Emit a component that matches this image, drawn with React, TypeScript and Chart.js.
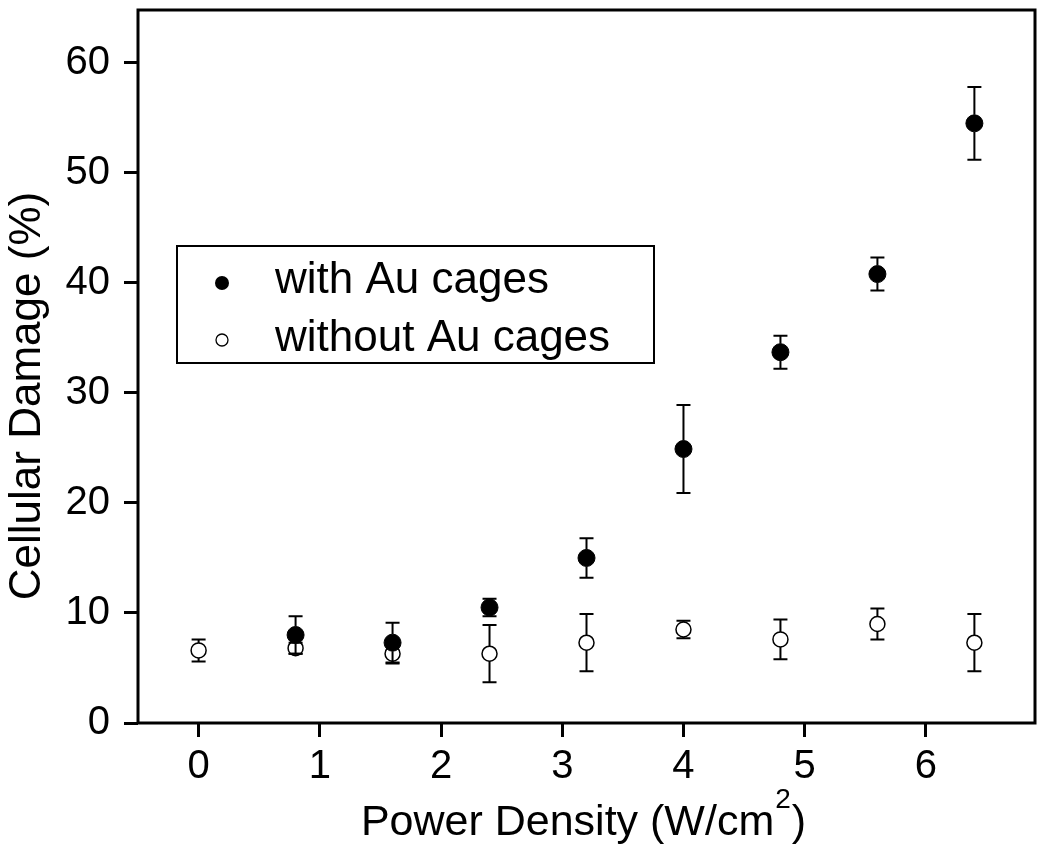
import React, { useEffect, useRef } from "react";
import { Chart, registerables } from "chart.js";

Chart.register(...registerables);

// ---- data ----
const powerDensity = [0, 0.8, 1.6, 2.4, 3.2, 4.0, 4.8, 5.6, 6.4];
const withCagesX = [0.8, 1.6, 2.4, 3.2, 4.0, 4.8, 5.6, 6.4];
const withCagesY = [8.0, 7.3, 10.5, 15.0, 24.9, 33.7, 40.8, 54.5];
const withCagesErr = [1.7, 1.8, 0.8, 1.8, 4.0, 1.5, 1.5, 3.3];
const withoutCagesY = [6.6, 6.8, 6.3, 6.3, 7.3, 8.5, 7.6, 9.0, 7.3];
const withoutCagesErr = [1.0, 0.5, 0.9, 2.6, 2.6, 0.8, 1.8, 1.4, 2.6];
const xTicks = [0, 1, 2, 3, 4, 5, 6];
const yTicks = [0, 10, 20, 30, 40, 50, 60];
const legendLabels = ["with Au cages", "without Au cages"];
const xTitleMain = "Power Density (W/cm";
const xTitleSup = "2";
const xTitleEnd = ")";
const yTitle = "Cellular Damage (%)";

const FONT = "'Liberation Sans', Arial, Helvetica, sans-serif";

const errorBarPlugin = {
  id: "errorBars",
  afterDatasetsDraw(chart: any) {
    const ctx = chart.ctx;
    const yScale = chart.scales.y;
    ctx.save();
    ctx.strokeStyle = "#000";
    ctx.lineWidth = 2;
    chart.data.datasets.forEach((ds: any, di: number) => {
      const meta = chart.getDatasetMeta(di);
      const r = ds.pointRadius;
      meta.data.forEach((pt: any, i: number) => {
        const v = ds.data[i].y;
        const e = ds.errors[i];
        const cx = pt.x;
        const cy = pt.y;
        const top = yScale.getPixelForValue(v + e);
        const bot = yScale.getPixelForValue(v - e);
        const cap = 7;
        ctx.beginPath();
        if (cy - r > top) {
          ctx.moveTo(cx, cy - r);
          ctx.lineTo(cx, top);
        }
        if (cy + r < bot) {
          ctx.moveTo(cx, cy + r);
          ctx.lineTo(cx, bot);
        }
        ctx.moveTo(cx - cap, top);
        ctx.lineTo(cx + cap, top);
        ctx.moveTo(cx - cap, bot);
        ctx.lineTo(cx + cap, bot);
        ctx.stroke();
      });
    });
    ctx.restore();
  },
};

const framePlugin = {
  id: "frame",
  afterDraw(chart: any) {
    const { ctx, chartArea } = chart;
    ctx.save();
    ctx.strokeStyle = "#000";
    ctx.lineWidth = 3;
    ctx.strokeRect(chartArea.left, chartArea.top, chartArea.right - chartArea.left, chartArea.bottom - chartArea.top);
    ctx.restore();
  },
};

const titlePlugin = {
  id: "titles",
  afterDraw(chart: any) {
    const { ctx, chartArea } = chart;
    ctx.save();
    ctx.fillStyle = "#000";
    const mainFont = `43px ${FONT}`;
    const supFont = `28px ${FONT}`;
    ctx.font = mainFont;
    const w1 = ctx.measureText(xTitleMain).width;
    const w3 = ctx.measureText(xTitleEnd).width;
    ctx.font = supFont;
    const w2 = ctx.measureText(xTitleSup).width;
    const total = w1 + w2 + w3;
    const cx = (chartArea.left + chartArea.right) / 2 - 4;
    let x = cx - total / 2;
    const baseY = 835;
    ctx.textBaseline = "alphabetic";
    ctx.textAlign = "left";
    ctx.font = mainFont;
    ctx.fillText(xTitleMain, x, baseY);
    x += w1;
    ctx.font = supFont;
    ctx.fillText(xTitleSup, x + 1, baseY - 27);
    x += w2 + 2;
    ctx.font = mainFont;
    ctx.fillText(xTitleEnd, x, baseY);
    ctx.translate(39.5, 396);
    ctx.rotate(-Math.PI / 2);
    ctx.font = `44px ${FONT}`;
    ctx.textAlign = "center";
    ctx.fillText(yTitle, 0, 0);
    ctx.restore();
  },
};

const legendPlugin = {
  id: "customLegend",
  afterDraw(chart: any) {
    const ctx = chart.ctx;
    ctx.save();
    ctx.fillStyle = "#fff";
    ctx.fillRect(177, 246, 477, 117);
    ctx.strokeStyle = "#000";
    ctx.lineWidth = 2;
    ctx.strokeRect(177, 246, 477, 117);
    ctx.beginPath();
    ctx.arc(222, 283, 7, 0, Math.PI * 2);
    ctx.fillStyle = "#000";
    ctx.fill();
    ctx.beginPath();
    ctx.arc(222, 340, 6, 0, Math.PI * 2);
    ctx.fillStyle = "#fff";
    ctx.fill();
    ctx.lineWidth = 1.3;
    ctx.stroke();
    ctx.fillStyle = "#000";
    ctx.font = `44px ${FONT}`;
    ctx.textAlign = "left";
    ctx.textBaseline = "alphabetic";
    ctx.fillText(legendLabels[0], 275, 293);
    ctx.fillText(legendLabels[1], 275, 351);
    ctx.restore();
  },
};

export default function App() {
  const canvasRef = useRef<HTMLCanvasElement | null>(null);

  useEffect(() => {
    const canvas = canvasRef.current;
    if (!canvas) return;
    const chart = new Chart(canvas, {
      type: "scatter",
      data: {
        datasets: [
          {
            label: legendLabels[0],
            data: withCagesX.map((x, i) => ({ x, y: withCagesY[i] })),
            errors: withCagesErr,
            pointRadius: 8.5,
            pointHoverRadius: 8.5,
            pointBackgroundColor: "#000",
            pointBorderColor: "#000",
            pointBorderWidth: 1,
            showLine: false,
          } as any,
          {
            label: legendLabels[1],
            data: powerDensity.map((x, i) => ({ x, y: withoutCagesY[i] })),
            errors: withoutCagesErr,
            pointRadius: 7.5,
            pointHoverRadius: 7.5,
            pointBackgroundColor: "#fff",
            pointBorderColor: "#000",
            pointBorderWidth: 1.5,
            showLine: false,
          } as any,
        ],
      },
      options: {
        responsive: false,
        animation: false,
        events: [],
        layout: { padding: { top: 10, right: 15, left: 0, bottom: 0 } },
        plugins: {
          legend: { display: false },
          tooltip: { enabled: false },
        },
        scales: {
          x: {
            type: "linear",
            min: -0.5,
            max: 6.9,
            afterBuildTicks: (s: any) => {
              s.ticks = xTicks.map((v) => ({ value: v }));
            },
            afterFit: (s: any) => {
              s.height = 137;
              s.paddingLeft = 0;
              s.paddingRight = 0;
            },
            grid: {
              display: true,
              drawOnChartArea: false,
              drawTicks: true,
              tickLength: 14,
              tickWidth: 3,
              tickColor: "#000",
            },
            border: { display: false },
            ticks: {
              color: "#000",
              font: { family: FONT, size: 40 },
              padding: 6,
              maxRotation: 0,
              autoSkip: false,
            },
          },
          y: {
            type: "linear",
            min: 0,
            max: 64.8,
            afterBuildTicks: (s: any) => {
              s.ticks = yTicks.map((v) => ({ value: v }));
            },
            afterFit: (s: any) => {
              s.width = 138;
              s.paddingTop = 0;
              s.paddingBottom = 0;
            },
            grid: {
              display: true,
              drawOnChartArea: false,
              drawTicks: true,
              tickLength: 14,
              tickWidth: 3,
              tickColor: "#000",
            },
            border: { display: false },
            ticks: {
              color: "#000",
              font: { family: FONT, size: 40 },
              padding: 14,
              autoSkip: false,
            },
          },
        },
      },
      plugins: [errorBarPlugin, framePlugin, titlePlugin, legendPlugin],
    });
    return () => chart.destroy();
  }, []);

  return (
    <div style={{ position: "absolute", left: 0, top: 0, width: 1050, height: 860, background: "#fff" }}>
      <canvas ref={canvasRef} width={1050} height={860} style={{ display: "block", width: 1050, height: 860 }} />
    </div>
  );
}
